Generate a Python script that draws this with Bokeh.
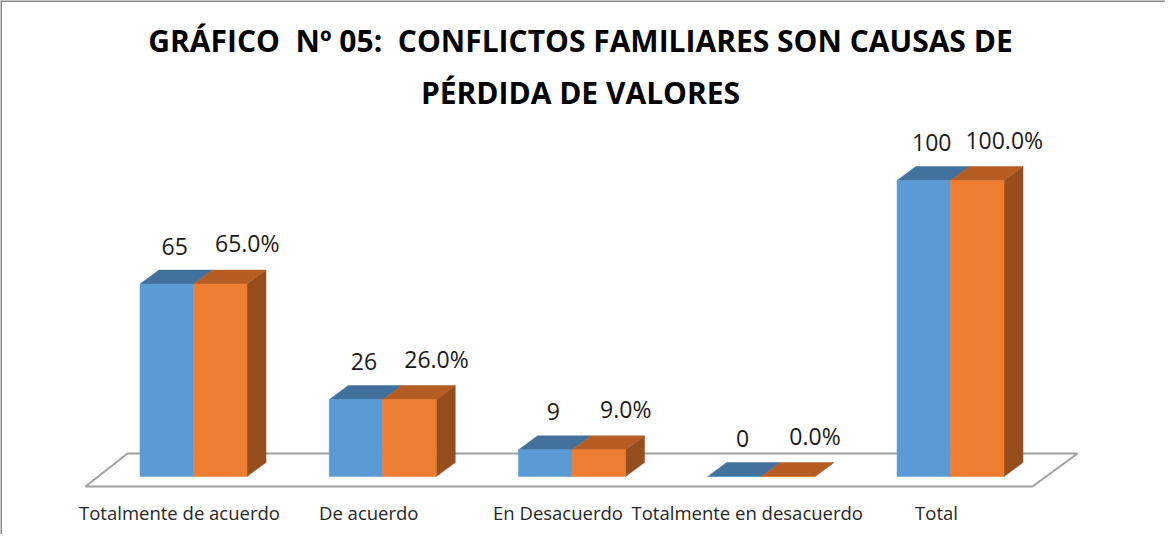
import numpy as np
from bokeh.plotting import figure
from bokeh.models import Range1d, Span, Label, ColumnDataSource
from bokeh.core.properties import value
from bokeh.embed import file_html
from bokeh.resources import INLINE

# ---------------- data ----------------
categories = ["Totalmente de acuerdo", "De acuerdo", "En Desacuerdo",
              "Totalmente en desacuerdo", "Total"]
frecuencia = [65, 26, 9, 0, 100]
porcentaje = [65.0, 26.0, 9.0, 0.0, 100.0]
title_lines = ["GRÁFICO \u00a0Nº 05: \u00a0CONFLICTOS FAMILIARES SON CAUSAS DE",
               "PÉRDIDA DE VALORES"]

# ---------------- layout constants (pixels) ----------------
W, H = 1165, 534
PX_X = 189.25          # pixels per category step
X0_PX = 193            # pixel position of first group centre
PX_Y = 2.96            # pixels per value unit
Y0_PX = 58             # pixel height of value 0 above bottom
BAR_PX = 53.5          # bar width
DX_PX, DY_PX = 19, 14  # 3-D depth offset

xs = -X0_PX / PX_X
xe = (W - X0_PX) / PX_X
ys = -Y0_PX / PX_Y
ye = (H - Y0_PX) / PX_Y

w = BAR_PX / PX_X
dx = DX_PX / PX_X
dy = DY_PX / PX_Y

BLUE, BLUE_TOP = "#5B9BD5", "#41719C"
ORANGE, ORANGE_TOP, ORANGE_SIDE = "#ED7D31", "#B55D23", "#974E1E"

p = figure(width=W, height=H, x_range=Range1d(xs, xe), y_range=Range1d(ys, ye),
           output_backend="svg", toolbar_location=None, min_border=0,
           x_axis_location=None, y_axis_location=None)
p.grid.visible = False
p.outline_line_color = None
p.background_fill_color = "white"
p.border_fill_color = "white"

# frame lines (top and left visible)
p.add_layout(Span(location=xs, dimension="height", line_color="#8C8C8C", line_width=3))
p.add_layout(Span(location=ye, dimension="width", line_color="#8C8C8C", line_width=3))

n = len(categories)
idx = np.arange(n)

# floor
f_front_l = (93 - 201) / PX_X
f_front_r = (n - 1) + (1040 - 958) / PX_X
f_back_l = (135 - 201) / PX_X
f_back_r = (n - 1) + (1085 - 958) / PX_X
f_front_y = -10 / PX_Y
f_back_y = 23 / PX_Y
p.patch([f_front_l, f_front_r, f_back_r, f_back_l],
        [f_front_y, f_front_y, f_back_y, f_back_y],
        fill_color="white", line_color="#A0A0A0", line_width=2)

def top_face(left, v):
    return ([left, left + w, left + w + dx, left + dx], [v, v, v + dy, v + dy])

# blue series
b_tops = [top_face(i - w, v) for i, v in zip(idx, frecuencia)]
p.patches([t[0] for t in b_tops], [t[1] for t in b_tops],
          fill_color=BLUE_TOP, line_color=BLUE_TOP, line_width=0.5)
p.vbar(x=idx - w / 2, width=w, top=frecuencia, bottom=0,
       fill_color=BLUE, line_color=BLUE, line_width=0.5)

# orange series
o_sides = [([i + w, i + w + dx, i + w + dx, i + w], [0, dy, v + dy, v])
           for i, v in zip(idx, porcentaje)]
p.patches([s[0] for s in o_sides], [s[1] for s in o_sides],
          fill_color=ORANGE_SIDE, line_color=ORANGE_SIDE, line_width=0.5)
o_tops = [top_face(i, v) for i, v in zip(idx, porcentaje)]
p.patches([t[0] for t in o_tops], [t[1] for t in o_tops],
          fill_color=ORANGE_TOP, line_color=ORANGE_TOP, line_width=0.5)
p.vbar(x=idx + w / 2, width=w, top=porcentaje, bottom=0,
       fill_color=ORANGE, line_color=ORANGE, line_width=0.5)

# value labels
src_b = ColumnDataSource(dict(x=idx - w / 2, y=frecuencia,
                              t=[str(v) for v in frecuencia]))
src_o = ColumnDataSource(dict(x=idx + w / 2, y=porcentaje,
                              t=[f"{v:.1f}%" for v in porcentaje]))
p.text(x="x", y="y", text="t", source=src_b, x_offset=8, y_offset=-38,
       text_align="center", text_baseline="middle", text_color="#1a1a1a",
       text_font=value("Open Sans"), text_font_size="23px")
p.text(x="x", y="y", text="t", source=src_o, x_offset=27, y_offset=-41,
       text_align="center", text_baseline="middle", text_color="#1a1a1a",
       text_font=value("Open Sans"), text_font_size="23px")

# category labels
src_c = ColumnDataSource(dict(x=idx, y=[0] * n, t=categories))
p.text(x="x", y="y", text="t", source=src_c, x_offset=-14, y_offset=36,
       text_align="center", text_baseline="middle", text_color="#262626",
       text_font=value("Open Sans"), text_font_size="18.5px")

# title
for k, line in enumerate(title_lines):
    p.add_layout(Label(x=580, y=[494, 442][k], x_units="screen", y_units="screen",
                       text=line, text_align="center", text_baseline="middle",
                       text_font="Open Sans", text_font_style="bold",
                       text_font_size="30px", text_color="#000000"))

open("out.html", "w").write(file_html(p, INLINE))
